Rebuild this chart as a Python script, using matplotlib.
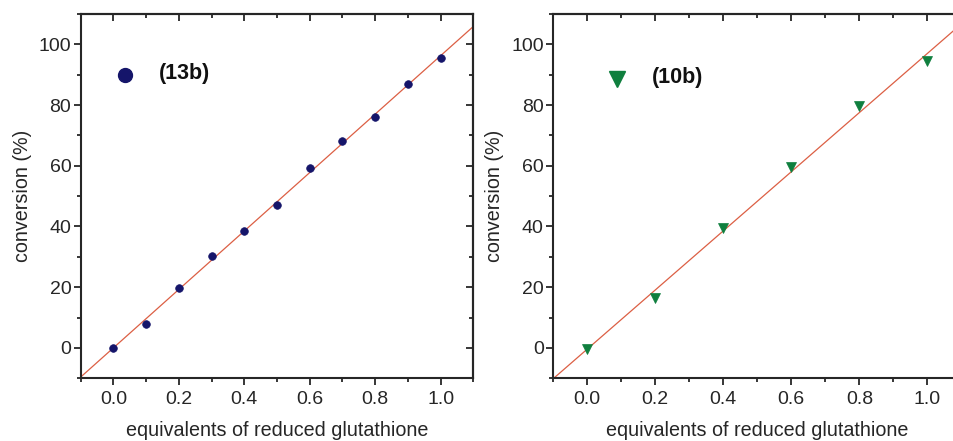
import numpy as np
import matplotlib
matplotlib.use("Agg")
import matplotlib.pyplot as plt
from matplotlib.ticker import MultipleLocator

plt.rcParams['font.family'] = ['Liberation Sans', 'DejaVu Sans']

# data
eq_13b = [0.0, 0.1, 0.2, 0.3, 0.4, 0.5, 0.6, 0.7, 0.8, 0.9, 1.0]
conv_13b = [0.0, 8.0, 19.7, 30.3, 38.4, 47.1, 59.4, 68.1, 76.0, 87.1, 95.4]
eq_10b = [0.0, 0.2, 0.4, 0.6, 0.8, 1.0]
conv_10b = [-0.2, 16.6, 39.6, 59.7, 79.6, 94.4]
label_13b = "(13b)"
label_10b = "(10b)"
xlabel = "equivalents of reduced glutathione"
ylabel = "conversion (%)"

navy = "#15156a"
green = "#0f7f3e"
red = "#dc5f44"
ink = "#262626"

fig = plt.figure(figsize=(9.54, 4.41), dpi=100)
ax1 = fig.add_axes([0.0845, 0.1422, 0.4117, 0.8261])
ax2 = fig.add_axes([0.5797, 0.1422, 0.4281, 0.8261])

def style(ax):
    ax.set_xlim(-0.1, 1.1)
    ax.set_ylim(-10, 110)
    ax.xaxis.set_minor_locator(MultipleLocator(0.1))
    ax.yaxis.set_minor_locator(MultipleLocator(10))
    ax.set_xticks(np.arange(0, 1.01, 0.2))
    ax.set_yticks(np.arange(0, 101, 20))
    ax.xaxis.set_major_formatter(matplotlib.ticker.FormatStrFormatter('%.1f'))
    for s in ax.spines.values():
        s.set_linewidth(1.5)
        s.set_color(ink)
    ax.tick_params(which='both', direction='out', top=False, right=False,
                   colors=ink, labelcolor=ink, labelsize=14, width=1.3)
    ax.tick_params(which='major', length=5.2)
    ax.tick_params(which='minor', length=3)
    ax.tick_params(axis='x', which='major', pad=4)
    ax.tick_params(axis='y', which='major', pad=1.5)
    # inward ticks on top and right
    sx = ax.secondary_xaxis('top')
    sx.set_xticks(np.arange(0, 1.01, 0.2))
    sx.xaxis.set_minor_locator(MultipleLocator(0.1))
    sx.tick_params(which='both', direction='in', labeltop=False, width=1.3, colors=ink)
    sx.tick_params(which='major', length=5.2)
    sx.tick_params(which='minor', length=3)
    sx.spines['top'].set_linewidth(1.5)
    sy = ax.secondary_yaxis('right')
    sy.set_yticks(np.arange(0, 101, 20))
    sy.yaxis.set_minor_locator(MultipleLocator(10))
    sy.tick_params(which='both', direction='in', labelright=False, width=1.3, colors=ink)
    sy.tick_params(which='major', length=5.2)
    sy.tick_params(which='minor', length=3)
    sy.spines['right'].set_linewidth(1.5)
    ax.set_xlabel(xlabel, fontsize=14.2, color=ink, labelpad=9)
    ax.set_ylabel(ylabel, fontsize=14.2, color=ink, labelpad=5)

for ax, xs, ys, mk, col, ms in [
    (ax1, eq_13b, conv_13b, 'o', navy, 5.5),
    (ax2, eq_10b, conv_10b, 'v', green, 6.5),
]:
    style(ax)
    xs = np.asarray(xs); ys = np.asarray(ys)
    k, b = np.polyfit(xs, ys, 1)
    xl = np.array([-0.1, 1.1])
    ax.plot(xl, k * xl + b, color=red, lw=0.9, zorder=2)
    ax.plot(xs, ys, linestyle='none', marker=mk, color=col, markersize=ms,
            markeredgewidth=0.5, zorder=3)

# legend-like annotations
ax1.plot([0.035], [90], marker='o', color=navy, markersize=10, linestyle='none', clip_on=False)
ax1.text(0.14, 90.5, label_13b, fontsize=15.5, fontweight='bold', va='center', ha='left', color='#111111')
ax2.plot([0.087], [88.5], marker='v', color=green, markersize=12, linestyle='none', clip_on=False)
ax2.text(0.19, 89, label_10b, fontsize=15.5, fontweight='bold', va='center', ha='left', color='#111111')

fig.savefig("out.png", dpi=100)
